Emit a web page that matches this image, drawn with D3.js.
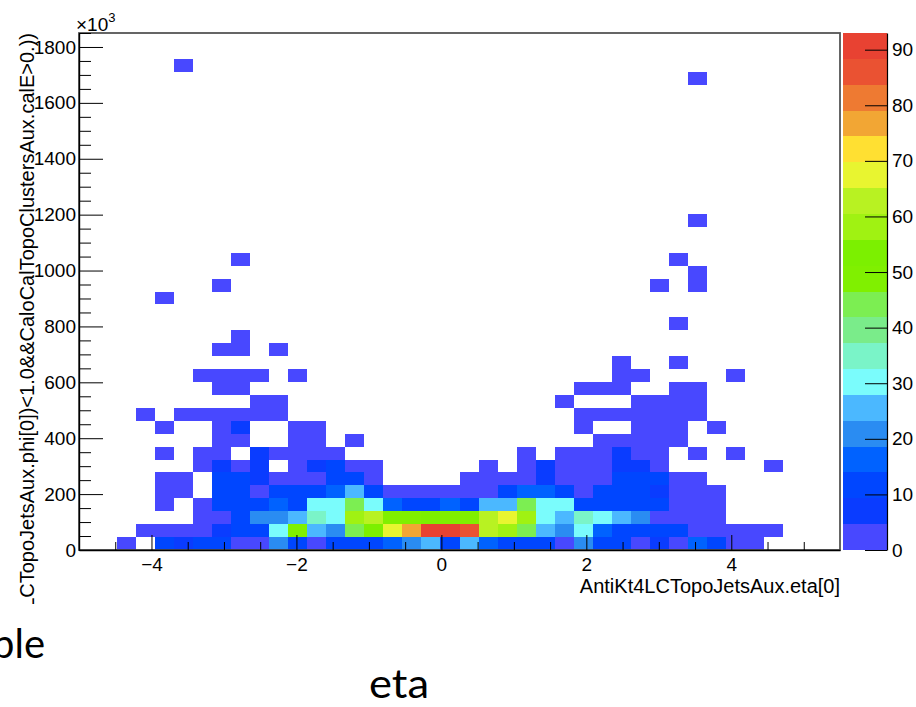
<!DOCTYPE html>
<html>
<head>
<meta charset="utf-8">
<script src="https://cdn.jsdelivr.net/npm/d3@7/dist/d3.min.js"></script>
<style>
  body { margin: 0; background: #fff; }
  svg { display: block; }
  .ax text { font-family: "Liberation Sans", Arial, sans-serif; font-size: 19px; fill: #000; }
  .ax line, .ax path { stroke: #000; }
</style>
</head>
<body>
<svg id="chart" width="916" height="707"></svg>
<script>
// Histogram binning: eta (x) and summed cluster energy in units of 10^3 (y)
const etaRange = [-5, 5.5];
const etaBins = 40;
const energyRange = [0, 1850];
const energyBins = 40;
const zMax = 93;

// Bin contents of the dense lower rows, row 0 = lowest energy bin, 40 eta bins each
const row00 = [0,0,2,0,10,9,10,11,3,4,21,11,4,10,11,12,16,21,25,13,26,16,11,10,12,3,21,11,10,4,9,3,16,10,2,1,0,0,0,0];
const row01 = [0,0,0,3,4,3,4,9,10,11,30,50,25,21,43,53,68,77,90,93,86,63,58,43,25,21,30,16,11,10,12,10,4,3,3,2,2,0,0,0];
const row02 = [0,0,0,0,0,0,2,3,10,20,21,25,35,30,58,63,50,51,52,50,49,63,68,58,30,25,35,31,26,20,4,3,3,2,0,0,0,0,0,0];
const row03 = [0,0,0,0,2,0,3,10,11,10,16,11,30,31,42,30,16,12,11,16,12,25,26,43,30,29,11,10,12,11,10,4,3,2,0,0,0,0,0,0];
const row04 = [0,0,0,0,3,2,0,10,11,4,10,11,10,16,25,11,4,4,3,4,3,4,10,16,15,10,4,10,11,10,9,3,3,2,0,0,0,0,0,0];
const row05 = [0,0,0,0,2,2,0,10,10,9,4,3,4,10,10,3,0,0,0,0,2,3,3,4,9,4,4,3,10,11,10,3,2,0,0,0,0,0,0,0];
const row06 = [0,0,0,0,0,0,2,9,4,9,0,3,9,10,3,2,0,0,0,0,0,2,0,2,8,3,4,3,9,9,4,0,0,0,0,0,1,0,0,0];
const row07 = [0,0,0,0,1,0,2,3,0,8,3,4,3,2,0,0,0,0,0,0,0,0,0,2,0,2,3,4,8,4,3,0,2,0,1,0,0,0,0,0];
const row08 = [0,0,0,0,0,0,0,2,3,0,0,2,3,0,1,0,0,0,0,0,0,0,0,0,0,0,0,2,3,3,4,2,0,0,0,0,0,0,0,0];
const row09 = [0,0,0,0,1,0,0,2,7,0,0,2,2,0,0,0,0,0,0,0,0,0,0,0,0,0,2,0,0,3,2,3,0,1,0,0,0,0,0,0];
const row10 = [0,0,0,1,0,2,2,3,3,2,2,0,0,0,0,0,0,0,0,0,0,0,0,0,0,0,2,2,3,3,2,2,2,0,0,0,0,0,0,0];
const row11 = [0,0,0,0,0,0,0,0,0,2,1,0,0,0,0,0,0,0,0,0,0,0,0,0,0,1,0,0,0,2,2,2,1,0,0,0,0,0,0,0];
const row12 = [0,0,0,0,0,0,0,1,2,0,0,0,0,0,0,0,0,0,0,0,0,0,0,0,0,0,1,2,1,0,0,2,1,0,0,0,0,0,0,0];
const row13 = [0,0,0,0,0,0,1,2,2,1,0,1,0,0,0,0,0,0,0,0,0,0,0,0,0,0,0,0,1,1,0,0,0,0,1,0,0,0,0,0];
const denseRows = [row00,row01,row02,row03,row04,row05,row06,row07,row08,row09,row10,row11,row12,row13];

// Isolated high-energy entries: [energy bin, eta bin, count]
const sparseCells = [
  [14,28,1],[14,31,1],[15,7,1],[15,8,1],[15,10,1],[16,8,1],[17,31,1],
  [19,4,1],[20,7,1],[20,30,1],[20,32,1],[21,32,1],[22,8,1],[22,31,1],
  [25,32,1],[36,32,1],[37,5,1]
];

// Palette: 20 contour levels from 0 to zMax
const levelColors = [
  "#4848ff","#0a3cff","#0046ff","#0062ff","#2a8cf2","#4bb8ff","#7afcfc","#7af4c8","#7aec8a","#7cee52",
  "#80f000","#7cf000","#a0f212","#b8f222","#e8f530","#ffe032","#f2a634","#ee7a32","#ea5232","#e84232"
];

const xMajorTicks = [-4,-2,0,2,4];
const xMinorTicks = [-4.5,-3.5,-3,-2.5,-1.5,-1,-0.5,0.5,1,1.5,2.5,3,3.5,4.5,5];
const yMajorTicks = [0,200,400,600,800,1000,1200,1400,1600,1800];
const yMinorTicks = [50,100,150,250,300,350,450,500,550,650,700,750,850,900,950,1050,1100,1150,1250,1300,1350,1450,1500,1550,1650,1700,1750,1850];
const zTicks = [0,10,20,30,40,50,60,70,80,90];

const xTitle = "AntiKt4LCTopoJetsAux.eta[0]";
const yTitle = "AntiKt4LCTopoJetsAux.phi[0])<1.0&&CaloCalTopoClustersAux.calE>0.))";

const frame = { left: 79, right: 840, top: 33, bottom: 550 };
const svg = d3.select("#chart");

const xs = d3.scaleLinear().domain(etaRange).range([frame.left, frame.right]);
const ys = d3.scaleLinear().domain(energyRange).range([frame.bottom, frame.top]);
const zs = d3.scaleLinear().domain([0, zMax]).range([frame.bottom, frame.top]);
const colorOf = d3.scaleQuantize().domain([0, zMax]).range(levelColors);

const xEdge = d3.scaleLinear().domain([0, etaBins]).range(etaRange);
const yEdge = d3.scaleLinear().domain([0, energyBins]).range(energyRange);

// Collect non-empty bins
const cells = [];
denseRows.forEach((row, r) => row.forEach((v, c) => { if (v > 0) cells.push({ r, c, v }); }));
sparseCells.forEach(([r, c, v]) => cells.push({ r, c, v }));

svg.append("rect")
  .attr("x", frame.left).attr("y", frame.top)
  .attr("width", frame.right - frame.left).attr("height", frame.bottom - frame.top)
  .attr("fill", "#fff");

svg.append("g").selectAll("rect").data(cells).join("rect")
  .attr("x", d => xs(xEdge(d.c)))
  .attr("y", d => ys(yEdge(d.r + 1)))
  .attr("width", d => xs(xEdge(d.c + 1)) - xs(xEdge(d.c)))
  .attr("height", d => ys(yEdge(d.r)) - ys(yEdge(d.r + 1)))
  .attr("fill", d => colorOf(d.v))
  .attr("shape-rendering", "crispEdges");

// Frame
svg.append("rect")
  .attr("x", frame.left).attr("y", frame.top)
  .attr("width", frame.right - frame.left).attr("height", frame.bottom - frame.top)
  .attr("fill", "none").attr("stroke", "#555").attr("stroke-width", 1.8);

// X axis
svg.append("g").attr("class", "ax").attr("transform", `translate(0,${frame.bottom})`)
  .call(d3.axisBottom(xs).tickValues(xMajorTicks).tickSize(-15).tickSizeOuter(0).tickPadding(8))
  .call(g => g.select(".domain").attr("stroke-width", 1.4));
svg.append("g").attr("class", "ax").attr("transform", `translate(0,${frame.bottom})`)
  .call(d3.axisBottom(xs).tickValues(xMinorTicks).tickSize(-8).tickSizeOuter(0).tickFormat(""))
  .call(g => g.select(".domain").remove());

// Y axis
svg.append("g").attr("class", "ax").attr("transform", `translate(${frame.left},0)`)
  .call(d3.axisLeft(ys).tickValues(yMajorTicks).tickSize(-24).tickSizeOuter(0).tickPadding(3).tickFormat(d3.format("d")))
  .call(g => g.select(".domain").attr("stroke-width", 1.4));
svg.append("g").attr("class", "ax").attr("transform", `translate(${frame.left},0)`)
  .call(d3.axisLeft(ys).tickValues(yMinorTicks).tickSize(-12).tickSizeOuter(0).tickFormat(""))
  .call(g => g.select(".domain").remove());

// Exponent label
const expo = svg.append("text")
  .attr("x", 76).attr("y", 31)
  .attr("font-family", "Liberation Sans, Arial, sans-serif").attr("font-size", 19);
expo.append("tspan").text("\u00d710");
expo.append("tspan").attr("dy", -9).attr("font-size", 13).text("3");

// Axis titles
svg.append("text")
  .attr("x", frame.right).attr("y", 593)
  .attr("text-anchor", "end")
  .attr("font-family", "Liberation Sans, Arial, sans-serif").attr("font-size", 20)
  .text(xTitle);

svg.append("clipPath").attr("id", "titleClip")
  .append("rect").attr("x", 0).attr("y", 0).attr("width", 60).attr("height", 604);
svg.append("g").attr("clip-path", "url(#titleClip)")
  .append("text")
  .attr("transform", "translate(34,33) rotate(-90)")
  .attr("text-anchor", "end")
  .attr("font-family", "Liberation Sans, Arial, sans-serif").attr("font-size", 20)
  .text(yTitle);

// Color scale bar
const bar = { left: 843, right: 887 };
const levels = d3.range(levelColors.length);
svg.append("g").selectAll("rect").data(levels).join("rect")
  .attr("x", bar.left)
  .attr("width", bar.right - bar.left)
  .attr("y", i => zs((i + 1) * zMax / levelColors.length))
  .attr("height", i => zs(i * zMax / levelColors.length) - zs((i + 1) * zMax / levelColors.length))
  .attr("fill", i => levelColors[i])
  .attr("shape-rendering", "crispEdges");

svg.append("g").attr("class", "ax").attr("transform", `translate(${bar.right},0)`)
  .call(d3.axisRight(zs).tickValues(zTicks).tickSize(-22).tickSizeOuter(0).tickPadding(5))
  .call(g => g.select(".domain").attr("stroke-width", 1.2));

// Surrounding slide text
svg.append("text")
  .attr("x", 45).attr("y", 658).attr("text-anchor", "end")
  .attr("font-family", "Lato, sans-serif").attr("font-size", 40)
  .text("ple");
svg.append("text")
  .attr("x", 369).attr("y", 698)
  .attr("font-family", "Lato, sans-serif").attr("font-size", 40)
  .attr("textLength", 60).attr("lengthAdjust", "spacingAndGlyphs")
  .text("eta");
</script>
</body>
</html>
